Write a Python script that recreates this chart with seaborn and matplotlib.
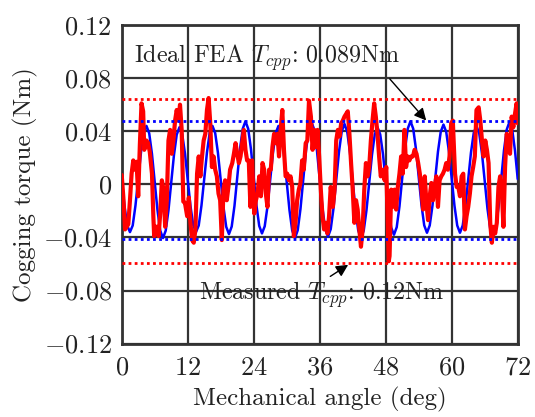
import numpy as np
import matplotlib
matplotlib.use("Agg")
import matplotlib.pyplot as plt
import seaborn as sns

# ---------------- data ----------------
x_ticks = [0, 12, 24, 36, 48, 60, 72]
x_tick_labels = ["$0$", "$12$", "$24$", "$36$", "$48$", "$60$", "$72$"]
y_ticks = [-0.12, -0.08, -0.04, 0.0, 0.04, 0.08, 0.12]
y_tick_labels = ["$-0.12$", "$-0.08$", "$-0.04$", "$0$", "$0.04$", "$0.08$", "$0.12$"]

fea_angle = [i * 0.5 for i in range(145)]
fea_torque = [
    0.004, -0.016, -0.031, -0.036, -0.031, -0.016, 0.004, 0.024, 0.039, 0.044,
    0.0384, 0.0229, 0.0018, -0.0194, -0.0348, -0.0405, -0.0349, -0.0196, 0.0013, 0.0221,
    0.0374, 0.043, 0.0377, 0.0233, 0.0035, -0.0163, -0.0307, -0.036, -0.031, -0.016,
    0.004, 0.024, 0.039, 0.044, 0.0385, 0.0236, 0.0033, -0.0171, -0.032, -0.0375,
    -0.0318, -0.0163, 0.005, 0.0263, 0.0418, 0.0475, 0.0418, 0.0264, 0.0053, -0.0159,
    -0.0313, -0.037, -0.0316, -0.0168, 0.0035, 0.0238, 0.0386, 0.044, 0.0384, 0.0229,
    0.0018, -0.0194, -0.0348, -0.0405, -0.0346, -0.0186, 0.0033, 0.0251, 0.0411, 0.047,
    0.0412, 0.0254, 0.0038, -0.0179, -0.0337, -0.0395, -0.0338, -0.0183, 0.003, 0.0243,
    0.0398, 0.0455, 0.0397, 0.024, 0.0025, -0.019, -0.0347, -0.0405, -0.0349, -0.0196,
    0.0013, 0.0221, 0.0374, 0.043, 0.0376, 0.0228, 0.0025, -0.0178, -0.0326, -0.038,
    -0.0323, -0.0166, 0.0048, 0.0261, 0.0418, 0.0475, 0.0419, 0.0265, 0.0055, -0.0155,
    -0.0309, -0.0365, -0.031, -0.0161, 0.0043, 0.0246, 0.0395, 0.045, 0.0395, 0.0246,
    0.0043, -0.0161, -0.031, -0.0365, -0.031, -0.0164, 0.0038, 0.0239, 0.0386, 0.044,
    0.0384, 0.0233, 0.0025, -0.0183, -0.0334, -0.039, -0.0332, -0.0175, 0.004, 0.0255,
    0.0412, 0.047, 0.0412, 0.0255, 0.004,
]

meas_angle = [
    0.0, 0.3, 0.6, 0.9, 1.2, 1.5, 1.8, 2.1, 2.4, 2.7, 3.0, 3.3, 3.6, 3.9, 4.1, 4.5, 4.8, 5.1, 5.5, 5.75,
    5.9, 6.05, 6.4, 6.7, 7.0, 7.3, 7.6, 7.9, 8.2, 8.5, 8.8, 9.1, 9.4, 9.7, 10.0, 10.3, 10.6, 10.9, 11.2, 11.5,
    11.9, 12.2, 12.5, 12.8, 13.1, 13.4, 13.7, 14.0, 14.3, 14.6, 14.9, 15.2, 15.5, 15.8, 16.1, 16.4, 16.7, 17.0, 17.3, 17.6,
    17.9, 18.2, 18.5, 18.8, 19.1, 19.4, 19.7, 20.1, 20.4, 20.7, 21.0, 21.3, 21.6, 21.9, 22.2, 22.5, 22.8, 23.1, 23.4, 23.7,
    24.1, 24.4, 24.7, 25.0, 25.3, 25.6, 25.9, 26.2, 26.5, 26.8, 27.1, 27.4, 27.7, 28.0, 28.3, 28.6, 28.9, 29.2, 29.5, 29.8,
    30.1, 30.4, 30.7, 31.0, 31.3, 31.6, 31.9, 32.2, 32.5, 32.8, 33.1, 33.45, 33.75, 34.05, 34.4, 34.7, 35.0, 35.3, 35.6, 35.9,
    36.2, 36.5, 36.8, 37.1, 37.4, 37.7, 38.0, 38.4, 38.7, 39.0, 39.3, 39.6, 39.9, 40.2, 40.5, 40.8, 41.1, 41.4, 41.7, 42.0,
    42.3, 42.6, 42.9, 43.2, 43.5, 43.8, 44.1, 44.4, 44.7, 45.0, 45.3, 45.6, 45.9, 46.2, 46.5, 46.8, 47.1, 47.5, 47.8, 48.1,
    48.4, 48.55, 48.7, 49.0, 49.3, 49.6, 49.9, 50.2, 50.5, 50.8, 51.1, 51.4, 51.7, 52.0, 52.3, 52.6, 52.95, 53.25, 53.6, 53.9,
    54.2, 54.5, 54.8, 55.1, 55.4, 55.7, 56.0, 56.3, 56.6, 56.9, 57.2, 57.5, 57.8, 58.1, 58.4, 58.7, 59.0, 59.3, 59.6, 59.9,
    60.2, 60.6, 60.9, 61.2, 61.5, 61.8, 62.1, 62.4, 62.7, 63.0, 63.3, 63.6, 63.9, 64.2, 64.5, 64.9, 65.2, 65.5, 65.8, 66.1,
    66.4, 66.7, 67.0, 67.3, 67.6, 67.9, 68.2, 68.5, 68.8, 69.1, 69.4, 69.7, 70.0, 70.3, 70.6, 70.9, 71.2, 71.5, 71.8, 72.0,
]
meas_torque = [
    0.007, -0.010, -0.034, -0.032, -0.030, -0.012, 0.008, 0.018, 0.011, 0.017, -0.009, 0.030, 0.061, 0.055, 0.026, 0.033, 0.031, 0.0245, 0.008, -0.024,
    -0.039, -0.032, -0.032, -0.039, -0.022, 0.003, -0.004, -0.032, -0.012, 0.033, 0.041, 0.023, 0.033, 0.048, 0.056, 0.048, 0.060, 0.041, -0.013, -0.014,
    -0.024, -0.010, -0.029, -0.042, -0.044, -0.034, 0.008, 0.021, 0.006, 0.021, 0.033, 0.038, 0.056, 0.065, 0.046, 0.013, 0.021, 0.011, 0.006, -0.007,
    -0.012, -0.042, -0.004, 0.003, -0.012, -0.002, 0.011, 0.016, 0.023, 0.031, 0.023, 0.016, 0.021, 0.031, 0.041, 0.026, 0.018, 0.018, -0.017, 0.018,
    -0.022, -0.012, -0.007, 0.006, -0.009, 0.016, 0.011, -0.007, -0.017, 0.011, 0.011, 0.028, 0.038, 0.031, 0.038, 0.021, 0.041, 0.056, 0.026, 0.006,
    0.008, 0.003, 0.006, -0.002, -0.039, -0.029, -0.012, -0.004, 0.001, 0.018, 0.011, 0.031, 0.033, 0.063, 0.051, 0.026, 0.041, 0.028, 0.041, 0.021,
    -0.004, -0.024, -0.034, -0.029, -0.037, -0.024, -0.002, -0.017, -0.004, 0.033, 0.041, 0.036, 0.046, 0.048, 0.051, 0.053, 0.055, 0.038, 0.016, -0.004,
    -0.029, -0.012, -0.019, -0.034, -0.047, -0.034, -0.004, 0.016, 0.006, 0.013, 0.033, 0.048, 0.061, 0.051, 0.038, 0.021, 0.006, 0.011, 0.003, 0.013,
    -0.034, -0.058, -0.054, -0.004, -0.017, -0.004, -0.019, -0.002, 0.008, 0.021, 0.008, 0.041, 0.013, 0.021, 0.018, 0.021, 0.021, 0.026, 0.023, 0.016,
    0.008, -0.004, -0.019, 0.006, -0.014, -0.027, -0.009, 0.001, -0.012, -0.002, 0.006, -0.017, 0.003, 0.006, 0.008, 0.011, 0.016, 0.011, 0.021, 0.046,
    0.048, 0.008, -0.002, -0.002, -0.009, 0.006, 0.008, -0.034, -0.024, -0.017, -0.007, 0.006, 0.013, 0.021, 0.056, 0.058, 0.048, 0.033, 0.021, 0.033,
    0.026, 0.016, -0.029, -0.044, -0.032, -0.037, -0.029, -0.002, 0.006, -0.004, -0.032, 0.013, 0.038, 0.033, 0.023, 0.051, 0.043, 0.053, 0.061, 0.046,
]

fea_bounds = [0.0475, -0.0415]
meas_bounds = [0.064, -0.059]

fea_text = r"Ideal FEA $T_{cpp}$: 0.089Nm"
meas_text = r"Measured $T_{cpp}$: 0.12Nm"

# ---------------- style ----------------
sns.set_style("white")
plt.rcParams["font.family"] = "serif"
plt.rcParams["font.serif"] = ["cmr10", "DejaVu Serif"]
plt.rcParams["mathtext.fontset"] = "cm"
plt.rcParams["axes.formatter.use_mathtext"] = True

fig = plt.figure(figsize=(5.35, 4.17), dpi=100)
ax = fig.add_axes([0.2275, 0.176, 0.7402, 0.764])

for v in meas_bounds:
    ax.axhline(v, color="#ff0000", linestyle=(0, (1, 1.2)), linewidth=2.0, zorder=4)

sns.lineplot(x=fea_angle, y=fea_torque, color="#0000ff", linewidth=1.8, ax=ax, zorder=3)
sns.lineplot(x=meas_angle, y=meas_torque, color="#ff0000", linewidth=3.0, ax=ax, zorder=4,
             sort=False, estimator=None)

for v in fea_bounds:
    ax.axhline(v, color="#0000ff", linestyle=(0, (1, 1.2)), linewidth=2.0, zorder=5)

ax.set_xlim(0, 72)
ax.set_ylim(-0.12, 0.12)
ax.set_xticks(x_ticks)
ax.set_xticklabels(x_tick_labels)
ax.set_yticks(y_ticks)
ax.set_yticklabels(y_tick_labels)
ax.tick_params(axis="both", length=0, labelsize=19, colors="#222222")
ax.tick_params(axis="x", pad=9)
ax.tick_params(axis="y", pad=7)
ax.grid(True, color="#333333", linewidth=1.6, zorder=1)
ax.set_axisbelow(True)
for s in ax.spines.values():
    s.set_color("#333333")
    s.set_linewidth(2.0)

ax.set_xlabel("Mechanical angle (deg)", fontsize=18, color="#222222", labelpad=5)
ax.set_ylabel("Cogging torque (Nm)", fontsize=18, color="#222222", labelpad=4)

ax.text(2.2, 0.095, fea_text, fontsize=17.3, va="center", ha="left", color="#222222", zorder=6)
ax.text(14.0, -0.083, meas_text, fontsize=17.3, va="center", ha="left", color="#222222", zorder=6)

ax.annotate("", xy=(55.7, 0.0465), xytext=(48.4, 0.081),
            arrowprops=dict(arrowstyle="-|>", color="black", lw=1.0, mutation_scale=18), zorder=6)
ax.annotate("", xy=(41.6, -0.0595), xytext=(37.5, -0.0705),
            arrowprops=dict(arrowstyle="-|>", color="black", lw=1.0, mutation_scale=18), zorder=6)

fig.savefig("out.png", dpi=100)
